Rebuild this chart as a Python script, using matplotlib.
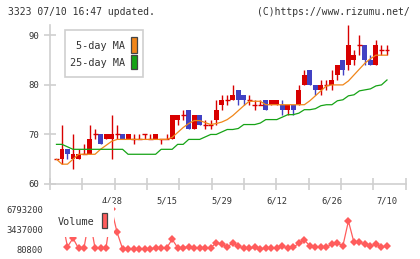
import matplotlib
matplotlib.use("Agg")
import numpy as np
import matplotlib.pyplot as plt
from matplotlib.patches import Rectangle


# Data (one entry per trading day, 4/14 .. 7/10)

opens = [65, 65, 67, 65, 65, 66, 66, 70, 70, 69,
         69, 70, 70, 69, 69, 69, 70, 69, 69, 69,
         69, 69, 73, 74, 75, 71, 74, 72, 72, 73,
         76, 77, 77, 79, 78, 77, 76, 76, 77, 76,
         76, 76, 75, 76, 76, 80, 83, 80, 79, 80,
         80, 82, 85, 84, 85, 88, 88, 85, 84, 87,
         87]
highs = [65, 72, 67, 70, 67, 68, 72, 71, 70, 70,
         74, 72, 70, 70, 70, 70, 70, 70, 70, 69,
         70, 74, 74, 75, 75, 74, 74, 73, 73, 77,
         78, 78, 80, 79, 78, 78, 77, 77, 77, 77,
         77, 77, 76, 76, 80, 83, 83, 80, 81, 81,
         83, 84, 85, 92, 87, 90, 88, 86, 89, 88,
         88]
lows = [65, 64, 65, 63, 65, 66, 66, 69, 68, 69,
        65, 69, 69, 69, 68, 69, 69, 69, 69, 68,
        69, 69, 72, 73, 71, 71, 72, 71, 71, 72,
        75, 76, 77, 76, 76, 76, 75, 76, 75, 76,
        76, 74, 74, 74, 76, 80, 80, 78, 78, 79,
        79, 81, 82, 83, 84, 86, 84, 84, 84, 86,
        86]
closes = [65, 67, 66, 66, 66, 66, 69, 70, 68, 70,
          70, 70, 69, 70, 69, 69, 70, 69, 70, 69,
          69, 74, 74, 74, 71, 74, 72, 72, 72, 75,
          77, 77, 78, 77, 77, 77, 76, 76, 75, 77,
          77, 75, 76, 75, 79, 82, 80, 79, 80, 80,
          81, 84, 83, 88, 86, 88, 85, 84, 88, 87,
          87]

ma5 = [65, 64, 64, 65, 66, 66, 66, 66, 67, 67.8,
       68.6, 69, 69, 69, 69, 69, 69, 69, 69, 69,
       69, 69.4, 70.4, 71.4, 72.2, 72.8, 72.8, 72.4, 72, 72.2,
       72.5, 73, 73.8, 74.8, 75.8, 76.7, 76.7, 76.7, 76, 76,
       76, 76, 76, 76, 76, 76, 76.8, 77.8, 78.8, 79.8,
       80, 80, 80, 80.8, 82, 83.2, 84.4, 85.3, 86, 86,
       86]
ma25 = [68, 68, 67.5, 67, 67, 67, 67, 67, 67, 67,
        67, 67, 67, 66, 66, 66, 66, 66, 66, 67,
        67, 67, 68, 68, 69, 69, 69, 69.5, 70, 70,
        70.5, 71, 71, 71.2, 72, 72, 72, 72.3, 73, 73,
        73, 73.5, 74, 74, 74.3, 75, 75, 75.2, 75.8, 76,
        76, 76.8, 77, 77.8, 78, 78.8, 79, 79.2, 79.8, 80,
        81]

volume = [4000000, 5000000, 470000, 1890000, 200000, 300000, 5500000, 200000, 200000, 300000,
          6793200, 2900000, 120000, 150000, 80800, 150000, 100000, 150000, 200000, 250000,
          250000, 1720000, 300000, 300000, 450000, 300000, 250000, 200000, 300000, 1100000,
          950000, 400000, 1150000, 590000, 200000, 200000, 370000, 90000, 200000, 200000,
          200000, 590000, 200000, 370000, 1040000, 1600000, 590000, 470000, 370000, 370000,
          930000, 1040000, 640000, 4810000, 1210000, 1210000, 930000, 590000, 870000, 370000,
          590000]

date_labels = ["4/28", "5/15", "5/29", "6/12", "6/26", "7/10"]
date_label_days = [10, 20, 30, 40, 50, 60]
price_ticks = [60, 70, 80, 90]
volume_ticks = [80800, 3437000, 6793200]


# Styles

RED = '#d80000'
BLUE = '#4141c3'
ORANGE = '#f0861a'
GREEN = '#16a316'
VOL = '#ff5c5c'
GRID = '#cfcfcf'
TEXT = '#333333'
MONO = 'DejaVu Sans Mono'

X_LEFT, X_RIGHT = -1.18, 63.4

fig = plt.figure(figsize=(4.2, 2.59), dpi=100)
ax = fig.add_axes([0.119, 0.2896, 0.847, 0.614])
axv = fig.add_axes([0.119, 0.0386, 0.847, 0.1533])


# Candles

days = np.arange(len(closes))
o = np.array(opens, dtype=float)
c = np.array(closes, dtype=float)
h = np.array(highs, dtype=float)
l = np.array(lows, dtype=float)
colors = np.where(c >= o, RED, BLUE)

ax.vlines(days, l, h, colors=colors, linewidth=1.0, zorder=2)
flat = c == o
body = np.abs(c - o)
ax.bar(days[~flat], body[~flat], bottom=np.minimum(o, c)[~flat], width=0.9,
       color=colors[~flat], linewidth=0, zorder=3)
ax.hlines(c[flat], days[flat] - 0.45, days[flat] + 0.45, colors=colors[flat],
          linewidth=1.0, zorder=3)

ax.plot(days, ma5, color=ORANGE, linewidth=0.9, zorder=4)
ax.plot(days, ma25, color=GREEN, linewidth=0.9, zorder=4)

ax.set_xlim(X_LEFT, X_RIGHT)
ax.set_ylim(60, 92.1)
for side in ['top', 'right']:
    ax.spines[side].set_visible(False)
for side in ['left', 'bottom']:
    ax.spines[side].set_color(GRID)
    ax.spines[side].set_linewidth(1.2)

ax.set_yticks(price_ticks)
ax.set_yticklabels([str(t) for t in price_ticks], family=MONO, fontsize=6.5, color=TEXT)
ax.tick_params(axis='y', direction='inout', length=8, width=1.2, color=GRID, pad=4)

ax.set_xticks(date_label_days)
ax.set_xticklabels(date_labels, family=MONO, fontsize=6.3, color=TEXT)
ax.set_xticks(np.linspace(X_LEFT, X_RIGHT, 12), minor=True)
ax.tick_params(axis='x', which='major', length=0, pad=9)
ax.tick_params(axis='x', which='minor', direction='inout', length=9, width=1.2, color=GRID)

# legend box for the moving averages
fig.patches.append(Rectangle((0.1548, 0.7015), 0.1864, 0.1827, transform=fig.transFigure,
                             facecolor='white', edgecolor=GRID, linewidth=1.2, zorder=5))
fig.text(0.2976, 0.8224, "5-day MA", family=MONO, fontsize=7.3, color=TEXT,
         ha='right', va='center', zorder=6)
fig.text(0.2976, 0.7556, "25-day MA", family=MONO, fontsize=7.3, color=TEXT,
         ha='right', va='center', zorder=6)
fig.patches.append(Rectangle((0.3119, 0.7935), 0.0136, 0.0618, transform=fig.transFigure,
                             facecolor=ORANGE, edgecolor='#444444', linewidth=0.9, zorder=6))
fig.patches.append(Rectangle((0.3119, 0.7317), 0.0136, 0.0560, transform=fig.transFigure,
                             facecolor=GREEN, edgecolor='#444444', linewidth=0.9, zorder=6))


# Volume

axv.plot(days, volume, color=VOL, linewidth=0.9, marker='D', markersize=4,
         markeredgewidth=0, clip_on=False, zorder=2)
axv.set_xlim(X_LEFT, X_RIGHT)
axv.set_ylim(volume_ticks[0], volume_ticks[-1])
for side in axv.spines:
    axv.spines[side].set_visible(False)
axv.set_xticks([])
axv.set_yticks(volume_ticks)
axv.set_yticklabels([str(t) for t in volume_ticks], family=MONO, fontsize=6.3, color=TEXT)
axv.tick_params(axis='y', length=0, pad=5)

# volume legend sits over the tallest points, as on the original
axv.add_patch(Rectangle((0.1195, 0.085), 0.1515, 0.131, transform=fig.transFigure,
                        facecolor='white', edgecolor='none', clip_on=False, zorder=5))
axv.text(0.138, 0.143, "Volume", transform=fig.transFigure, family=MONO, fontsize=7.3,
         color=TEXT, va='center', zorder=6)
axv.add_patch(Rectangle((0.2421, 0.1185), 0.0133, 0.058, transform=fig.transFigure,
                        facecolor=VOL, edgecolor='#444444', linewidth=0.9,
                        clip_on=False, zorder=6))


# Header

fig.text(0.0198, 0.9537, "3323 07/10 16:47 updated.", family=MONO, fontsize=7.0,
         color=TEXT, va='center')
fig.text(0.976, 0.9537, "(C)https://www.rizumu.net/", family=MONO, fontsize=7.0,
         color=TEXT, va='center', ha='right')

fig.savefig("out.png", dpi=100)
